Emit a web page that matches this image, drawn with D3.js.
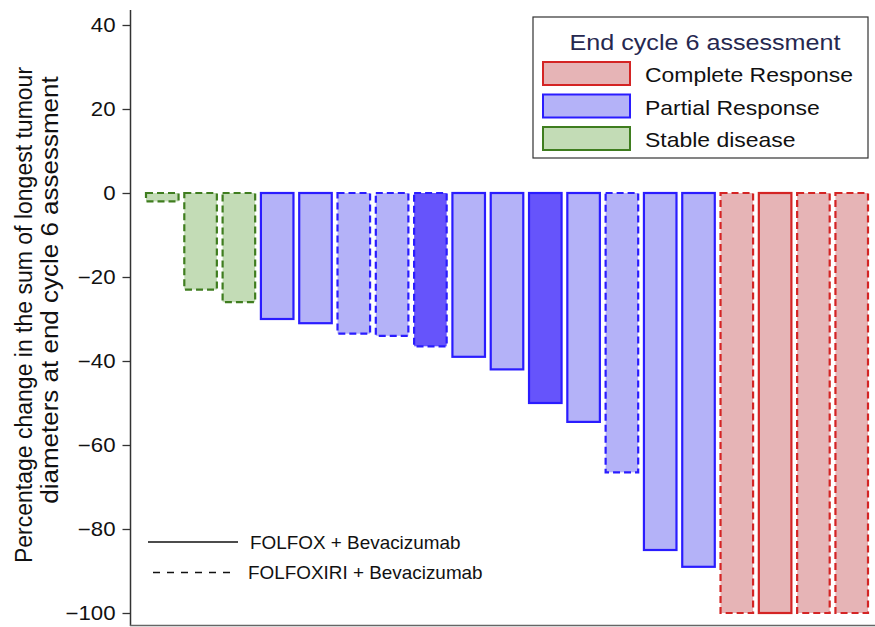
<!DOCTYPE html>
<html><head><meta charset="utf-8">
<script src="https://cdn.jsdelivr.net/npm/d3@7"></script>
<style>body{margin:0;background:#fff}svg{display:block;font-family:Arial,"Liberation Sans",sans-serif}</style>
</head><body><svg id="c" width="875" height="627"></svg>
<script>
const values = [-2, -23, -26, -30, -31, -33.5, -34, -36.5, -39, -42, -50, -54.5, -66.5, -85, -89, -100, -100, -100, -100];
const response = ["SD","SD","SD","PR","PR","PR","PR","PR","PR","PR","PR","PR","PR","PR","PR","CR","CR","CR","CR"];
const regimen = ["X","X","X","F","F","X","X","X","F","F","F","F","X","F","F","X","F","X","X"]; // F = FOLFOX, X = FOLFOXIRI
const darkFill = [0,0,0,0,0,0,0,1,0,0,1,0,0,0,0,0,0,0,0];
const yTicks = [40, 20, 0, -20, -40, -60, -80, -100];
const legendTitle = "End cycle 6 assessment";
const legendKeys = ["CR","PR","SD"];
const legendLabels = ["Complete Response","Partial Response","Stable disease"];
const lineLegend = ["FOLFOX + Bevacizumab","FOLFOXIRI + Bevacizumab"];

const fills = {CR:"#e6b4b6", PR:"#b4b2f8", SD:"#c3dcb6"};
const strokes = {CR:"#d42424", PR:"#2a1cff", SD:"#3f7d1f"};
const darkBlue = "#6654fb";

const svg = d3.select("#c");
const y = d3.scaleLinear().domain([-100, 40]).range([613, 25]);
const x = d3.scaleBand().domain(d3.range(values.length)).range([146, 868]).paddingInner(0.15).paddingOuter(0);

function stext(parent, tx, ty, anchor, size, sx, str, fill){
  return parent.append("text").attr("transform",`translate(${tx},${ty}) scale(${sx},1)`)
    .attr("text-anchor",anchor).attr("font-size",size).attr("fill",fill||"#111").text(str);
}

// axes frame
const yAxis = d3.axisLeft(y).tickValues(yTicks).tickSize(8).tickPadding(7).tickFormat(d3.format("d"));
const ga = svg.append("g").attr("transform","translate(130.5,0)").call(yAxis);
ga.select(".domain").remove();
ga.selectAll(".tick line").attr("stroke","#333").attr("stroke-width",1.3);
ga.selectAll(".tick text").attr("x",null).attr("transform","translate(-15,0) scale(1.14,1)")
  .attr("font-size",19.5).attr("fill","#111").attr("font-family","Arial, 'Liberation Sans', sans-serif");
svg.append("line").attr("x1",130.5).attr("x2",130.5).attr("y1",10).attr("y2",626).attr("stroke","#333").attr("stroke-width",1.5);
svg.append("line").attr("x1",130).attr("x2",875).attr("y1",625.5).attr("y2",625.5).attr("stroke","#666").attr("stroke-width",1.5);

// y label
svg.append("text").attr("transform","translate(32,315) rotate(-90)").attr("text-anchor","middle").attr("font-size",23).attr("fill","#111")
  .text("Percentage change in the sum of longest tumour");
svg.append("text").attr("transform","translate(58,290) rotate(-90) scale(1.13,1)").attr("text-anchor","middle").attr("font-size",23).attr("fill","#111")
  .text("diameters at end cycle 6 assessment");

// bars
svg.append("g").selectAll("rect").data(values).join("rect")
  .attr("x",(d,i)=>x(i))
  .attr("width",x.bandwidth())
  .attr("y",d=>y(Math.max(0,d)))
  .attr("height",d=>Math.abs(y(d)-y(0)))
  .attr("fill",(d,i)=>darkFill[i] ? darkBlue : fills[response[i]])
  .attr("stroke",(d,i)=>strokes[response[i]])
  .attr("stroke-width",2.2)
  .attr("stroke-dasharray",(d,i)=>regimen[i]==="X" ? "7,4" : null);

// legend box
const lg = svg.append("g");
lg.append("rect").attr("x",533).attr("y",17).attr("width",335).attr("height",141).attr("fill","#fff").attr("stroke","#333").attr("stroke-width",1.2);
stext(lg, 705, 50, "middle", 21.5, 1.17, legendTitle, "#26284f");
legendKeys.forEach((k,i)=>{
  const yy = 62 + i*32.5;
  lg.append("rect").attr("x",543).attr("y",yy).attr("width",87).attr("height",23).attr("fill",fills[k]).attr("stroke",strokes[k]).attr("stroke-width",2);
  stext(lg, 645, yy+20, "start", 20.5, 1.12, legendLabels[i]);
});

// line style legend
svg.append("line").attr("x1",148).attr("x2",238).attr("y1",542).attr("y2",542).attr("stroke","#111").attr("stroke-width",1.3);
stext(svg, 250, 548.5, "start", 17.5, 1.08, lineLegend[0]);
svg.append("line").attr("x1",153).attr("x2",230).attr("y1",572.5).attr("y2",572.5).attr("stroke","#111").attr("stroke-width",1.3).attr("stroke-dasharray","7,7");
stext(svg, 248, 579, "start", 17.5, 1.08, lineLegend[1]);
</script></body></html>
